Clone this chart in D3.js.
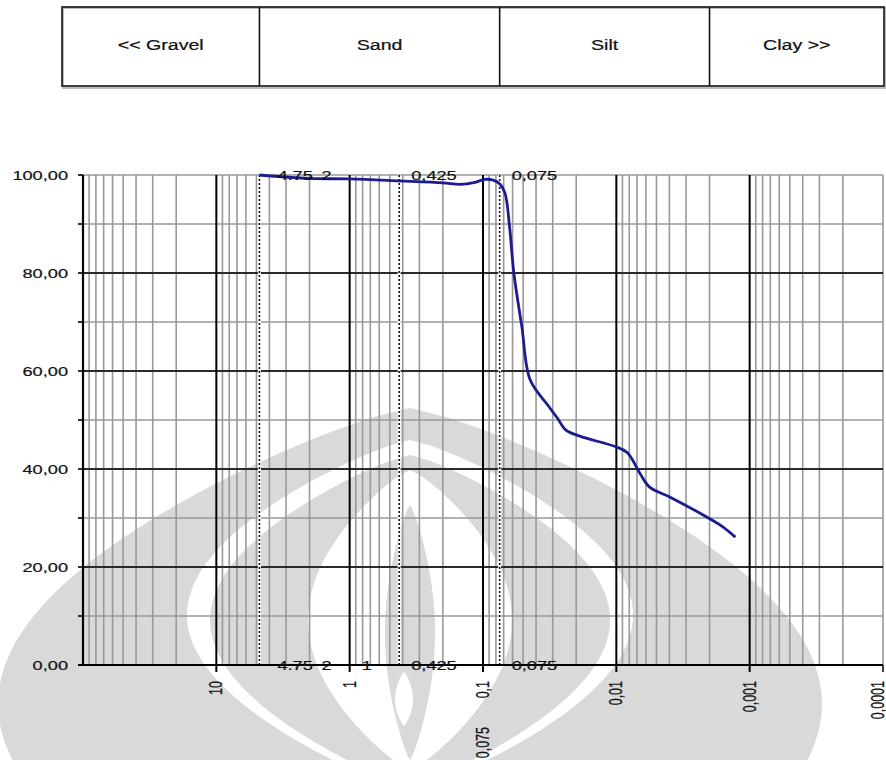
<!DOCTYPE html>
<html><head><meta charset="utf-8">
<script src="https://cdn.jsdelivr.net/npm/d3@7/dist/d3.min.js"></script>
<style>
body{margin:0;background:#fff}
svg{display:block}
text{font-family:"Liberation Sans",Arial,sans-serif;fill:#111;stroke:#111;stroke-width:0.2px}
</style>
</head><body>
<svg id="c" width="886" height="760"></svg>
<script>
// ---------- data ----------
const grainSize = [4.75, 2, 1, 0.425, 0.2, 0.149, 0.115, 0.0976, 0.085, 0.075, 0.0684, 0.0632, 0.0587, 0.0511, 0.0443,
                   0.0326, 0.0277, 0.024, 0.0188, 0.01, 0.00825, 0.00668, 0.00563, 0.00398, 0.0021, 0.00159, 0.00128];
const percentPassing = [100, 99.3, 99.2, 98.8, 98.4, 98.1, 98.5, 99.1, 99.0, 98.2, 96.3, 89.4, 80, 69, 58.2,
                        53, 50.4, 48.0, 46.7, 44.5, 43.3, 39.2, 36.3, 34.3, 30.2, 28.2, 26.1];
const soilClasses = ["<< Gravel", "Sand", "Silt", "Clay >>"];
const classBounds = [4.75, 0.075, 0.002];
const sieveLines = [4.75, 0.425, 0.075];
const topLabelVals = [4.75, 2, 0.425, 0.075];
const topLabels = ["4.75", "2", "0,425", "0,075"];
const bottomLabelVals = [4.75, 2, 1, 0.425, 0.075];
const bottomLabels = ["4.75", "2", "1", "0,425", "0,075"];
const xTickVals = [10, 1, 0.1, 0.01, 0.001, 0.0001];
const xTickLabels = ["10", "1", "0,1", "0,01", "0,001", "0,0001"];
const yTickVals = [0, 20, 40, 60, 80, 100];
const yTickLabels = ["0,00", "20,00", "40,00", "60,00", "80,00", "100,00"];
const yMinorVals = [10, 30, 50, 70, 90];

// ---------- layout ----------
const svg = d3.select("#c");
const L = 83, R = 883, T = 175, B = 665;
const x = d3.scaleLog().domain([100, 0.0001]).range([L, R]);
const y = d3.scaleLinear().domain([0, 100]).range([B, T]);
const SX = 1.4;

function stext(g, px, py, s, anchor, size, extra) {
  return g.append("text")
    .attr("transform", `translate(${px},${py}) scale(${SX},1)` + (extra || ""))
    .attr("text-anchor", anchor).attr("font-size", size).text(s);
}

// ---------- watermark (background logo) ----------
const wm = svg.append("g").attr("class", "watermark");
const G = "#d9d9d9";
function leaf(cx, peak, base, W, fill) {
  const n = 60, left = [], right = [];
  for (let i = 0; i <= n; i++) {
    const t = i / n, yy = peak + t * (base - peak);
    const hw = W * Math.pow(Math.sin(Math.PI * t), 0.8);
    left.push([cx - hw, yy]); right.push([cx + hw, yy]);
  }
  const ptsL = left.concat(right.reverse());
  wm.append("path").attr("d", d3.line()(ptsL) + "Z").attr("fill", fill);
}
leaf(410, 408, 1000, 412, G);
leaf(410, 440, 790, 223, "#fff");
leaf(410, 455, 785, 200, G);
leaf(410, 470, 770, 102, "#fff");
leaf(410, 505, 760, 25, G);
leaf(404, 672, 726, 9, "#fff");

// ---------- header box ----------
const hb = svg.append("g");
hb.append("rect").attr("x", 63).attr("y", 8).attr("width", 823).attr("height", 80)
  .attr("fill", "none").attr("stroke", "#bbb").attr("stroke-width", 2);
hb.append("rect").attr("x", 62).attr("y", 7).attr("width", 822).attr("height", 79)
  .attr("fill", "none").attr("stroke", "#111").attr("stroke-width", 1.6);
hb.selectAll("line.div").data(classBounds).join("line")
  .attr("x1", d => x(d)).attr("x2", d => x(d)).attr("y1", 7).attr("y2", 86)
  .attr("stroke", "#111").attr("stroke-width", 1.6);
const edges = [62, ...classBounds.map(d => x(d)), 884];
soilClasses.forEach((s, i) => stext(hb, (edges[i] + edges[i + 1]) / 2, 50, s, "middle", 14));

// ---------- grid ----------
const grid = svg.append("g");
const minorX = x.ticks().filter(v => {
  const m = Math.round(v / Math.pow(10, Math.floor(Math.log10(v) + 1e-9)));
  return m !== 1 && v < 100;
});
grid.selectAll("line.vm").data(minorX).join("line")
  .attr("x1", d => x(d)).attr("x2", d => x(d)).attr("y1", T).attr("y2", B)
  .attr("stroke", "#999").attr("stroke-width", 1.6);
grid.selectAll("line.hm").data(yMinorVals).join("line")
  .attr("x1", L).attr("x2", R).attr("y1", d => y(d)).attr("y2", d => y(d))
  .attr("stroke", "#999").attr("stroke-width", 1.6);
grid.append("line").attr("x1", L).attr("x2", R).attr("y1", y(100)).attr("y2", y(100))
  .attr("stroke", "#999").attr("stroke-width", 1.6);
grid.append("line").attr("x1", R).attr("x2", R).attr("y1", T).attr("y2", B)
  .attr("stroke", "#999").attr("stroke-width", 1.6);
grid.selectAll("line.hM").data(yTickVals.filter(v => v > 0 && v < 100)).join("line")
  .attr("x1", L).attr("x2", R).attr("y1", d => y(d)).attr("y2", d => y(d))
  .attr("stroke", "#2a2a2a").attr("stroke-width", 2);
grid.selectAll("line.vM").data(xTickVals.filter(v => v > 0.0001)).join("line")
  .attr("x1", d => x(d)).attr("x2", d => x(d)).attr("y1", T).attr("y2", B + 7)
  .attr("stroke", "#000").attr("stroke-width", 2);
grid.append("line").attr("x1", R).attr("x2", R).attr("y1", B).attr("y2", B + 7)
  .attr("stroke", "#000").attr("stroke-width", 1.5);

// sieve dotted lines
sieveLines.forEach(v => {
  grid.append("line").attr("x1", x(v)).attr("x2", x(v)).attr("y1", T).attr("y2", B)
    .attr("stroke", "#fff").attr("stroke-width", 3);
  grid.append("line").attr("x1", x(v)).attr("x2", x(v)).attr("y1", T).attr("y2", B)
    .attr("stroke", "#111").attr("stroke-width", 1.6).attr("stroke-dasharray", "2,2");
});

// axes
const ax = svg.append("g");
ax.append("line").attr("x1", L).attr("x2", L).attr("y1", T).attr("y2", B)
  .attr("stroke", "#000").attr("stroke-width", 2.2);
ax.append("line").attr("x1", L - 5).attr("x2", R).attr("y1", B).attr("y2", B)
  .attr("stroke", "#000").attr("stroke-width", 2);
ax.selectAll("line.yt").data(d3.range(0, 101, 10)).join("line")
  .attr("x1", L - 5).attr("x2", L).attr("y1", d => y(d)).attr("y2", d => y(d))
  .attr("stroke", "#000").attr("stroke-width", 1.6);
yTickVals.forEach((v, i) => stext(ax, 68, y(v) + 5, yTickLabels[i], "end", 13));
xTickVals.forEach((v, i) => stext(ax, Math.min(x(v) + 6, 884), 681, xTickLabels[i], "end", 12.5, " rotate(-90)"));
stext(ax, 489, 727, "0,075", "end", 12.5, " rotate(-90)");

// ---------- curve ----------
const pts = grainSize.map((d, i) => [x(d), y(percentPassing[i])]);
svg.append("path").attr("d", d3.line().curve(d3.curveCatmullRom.alpha(0.5))(pts))
  .attr("fill", "none").attr("stroke", "#1c1c8e").attr("stroke-width", 2.8)
  .attr("stroke-linejoin", "round");

// data labels
topLabelVals.forEach((v, i) => stext(svg, x(v) + (v === 4.75 ? 18 : 12), 180, topLabels[i], "start", 13));
bottomLabelVals.forEach((v, i) => stext(svg, x(v) + (v === 4.75 ? 18 : 12), 670, bottomLabels[i], "start", 13));
</script>
</body></html>
